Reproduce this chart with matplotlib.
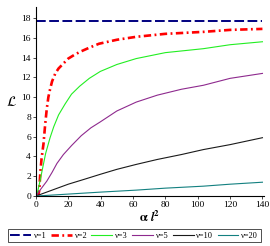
import matplotlib
matplotlib.use("Agg")
import matplotlib.pyplot as plt

# valores (x = alpha l^2)
x_v2 = [0, 1.5, 2.1, 2.7, 3.5, 4.7, 5.7, 6.7, 7.7, 8.75, 10, 12, 14, 17, 20, 24, 27.5, 33, 39, 50, 62, 80, 103.5, 120, 140]
y_v2 = [0, 0.1, 0.6, 2.3, 3.8, 5.3, 7.2, 8.8, 10.0, 10.8, 11.6, 12.4, 12.9, 13.4, 13.9, 14.3, 14.6, 15.0, 15.4, 15.8, 16.1, 16.4, 16.6, 16.8, 16.9]

x_v3 = [0, 1, 2.5, 4, 6, 8.75, 11, 14, 18, 22, 27, 33, 39.8, 50, 62, 80, 103.5, 120, 140]
y_v3 = [0, 0.4, 1.5, 2.7, 4.3, 5.9, 7.0, 8.2, 9.3, 10.3, 11.1, 11.9, 12.6, 13.3, 13.9, 14.5, 14.9, 15.3, 15.6]

x_v5 = [0, 3, 6.7, 10, 13, 17, 22, 28, 34, 39.8, 50, 62, 75, 90, 103.5, 120, 140]
y_v5 = [0, 0.7, 1.5, 2.4, 3.3, 4.2, 5.1, 6.1, 6.9, 7.5, 8.6, 9.5, 10.2, 10.8, 11.2, 11.9, 12.4]

x_v10 = [0, 10, 20, 30, 39.8, 50, 62, 75, 90, 103.5, 120, 140]
y_v10 = [0, 0.6, 1.2, 1.7, 2.2, 2.7, 3.2, 3.7, 4.2, 4.7, 5.2, 5.9]

x_v20 = [0, 20, 40, 62, 80, 103.5, 120, 140]
y_v20 = [0, 0.2, 0.4, 0.6, 0.8, 1.0, 1.2, 1.4]

x_v1 = [0, 140]
y_v1 = [17.65, 17.65]

etiquetas = ["ν=1", "ν=2", "ν=3", "ν=5", "ν=10", "ν=20"]
xticks = [0, 20, 40, 60, 80, 100, 120, 140]
yticks = [0, 2, 4, 6, 8, 10, 12, 14, 16, 18]

plt.rcParams["font.family"] = ["Liberation Serif", "DejaVu Serif"]
plt.rcParams["mathtext.fontset"] = "stix"

fig = plt.figure(figsize=(2.7, 2.46), dpi=100)
ax = fig.add_axes([0.133, 0.203, 0.845, 0.768])

ax.plot(x_v1, y_v1, color="#000080", lw=1.4, dashes=(5, 1.8), label=etiquetas[0])
ax.plot(x_v2, y_v2, color="#ff0000", lw=1.9, dashes=(2.8, 1.3, 0.7, 1.3), label=etiquetas[1])
ax.plot(x_v3, y_v3, color="#22ee22", lw=0.8, label=etiquetas[2])
ax.plot(x_v5, y_v5, color="#8e2a8e", lw=0.8, label=etiquetas[3])
ax.plot(x_v10, y_v10, color="#1a1a1a", lw=0.8, label=etiquetas[4])
ax.plot(x_v20, y_v20, color="#138080", lw=0.8, label=etiquetas[5])

# Ejes estilo Maple
ax.set_xlim(0, 141)
ax.set_ylim(0, 19.1)
ax.spines["top"].set_visible(False)
ax.spines["right"].set_visible(False)
ax.spines["left"].set_linewidth(0.8)
ax.spines["bottom"].set_linewidth(0.8)
ax.set_xticks(xticks)
ax.set_yticks(yticks)
ax.tick_params(labelsize=6.8, length=2, width=0.5, pad=1.5)

ax.set_xlabel(r"$\mathbf{\alpha}\ \boldsymbol{l}^{\mathbf{2}}$", fontsize=9, labelpad=1)
ax.set_ylabel(r"$\mathcal{L}$", fontsize=10, rotation=0, labelpad=7, va="center")

ley = fig.legend(loc="lower center", bbox_to_anchor=(0.497, 0.015), ncol=6, fontsize=6.0,
                 frameon=True, fancybox=False, edgecolor="black", handlelength=2.5,
                 handletextpad=0.35, columnspacing=0.5, borderpad=0.3, borderaxespad=0)
ley.get_frame().set_linewidth(0.6)

plt.savefig("out.png", dpi=100)
plt.close()
